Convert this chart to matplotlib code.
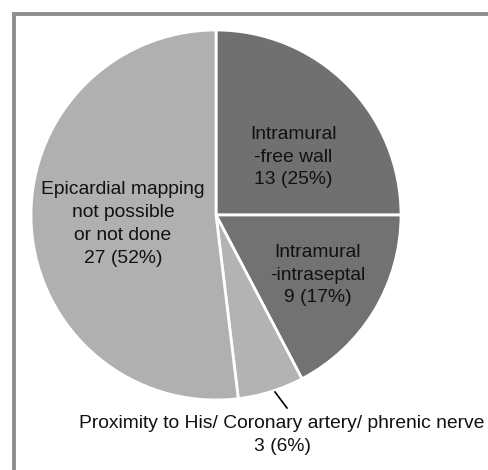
import matplotlib
matplotlib.use("Agg")
from matplotlib import pyplot as plt
from matplotlib.patches import Rectangle

# data
categories = ["Intramural\n-free wall", "Intramural\n-intraseptal",
              "Proximity to His/ Coronary artery/ phrenic nerve", "Epicardial mapping\nnot possible\nor not done"]
counts = [13, 9, 3, 27]
percents = [25, 17, 6, 52]
colors = ["#707070", "#727272", "#b3b3b3", "#b0b0b0"]

plt.rcParams['font.family'] = ['Liberation Sans', 'DejaVu Sans']

W, H = 489, 470
fig = plt.figure(figsize=(W / 100, H / 100), dpi=100)
ax = fig.add_axes([0, 0, 1, 1])

# gray frame, top and left edges visible
ax.add_patch(Rectangle((13.5, -20), W + 40, H - 13.5 + 20, fill=False,
                       edgecolor="#8e8e8e", linewidth=2.8))

cx, cy, r = 216, H - 215, 185
ax.pie(counts, colors=colors, startangle=90, counterclock=False,
       center=(cx, cy), radius=r, frame=True,
       wedgeprops=dict(edgecolor="white", linewidth=2))
ax.set_xlim(0, W)
ax.set_ylim(0, H)
ax.set_aspect('equal')
ax.axis('off')

labels = [f"{c}\n{n} ({p}%)" for c, n, p in zip(categories, counts, percents)]
pos = [(293, H - 157), (318, H - 275), (282, H - 435), (123, H - 224)]
for lab, (x, y) in zip(labels, pos):
    ax.text(x, y, lab, ha="center", va="center", fontsize=13.9, linespacing=1.45, color="#111111")

# leader line for small slice
ax.plot([275, 287], [H - 392, H - 408], color="black", linewidth=1.2)

fig.savefig("out.png", dpi=100)
